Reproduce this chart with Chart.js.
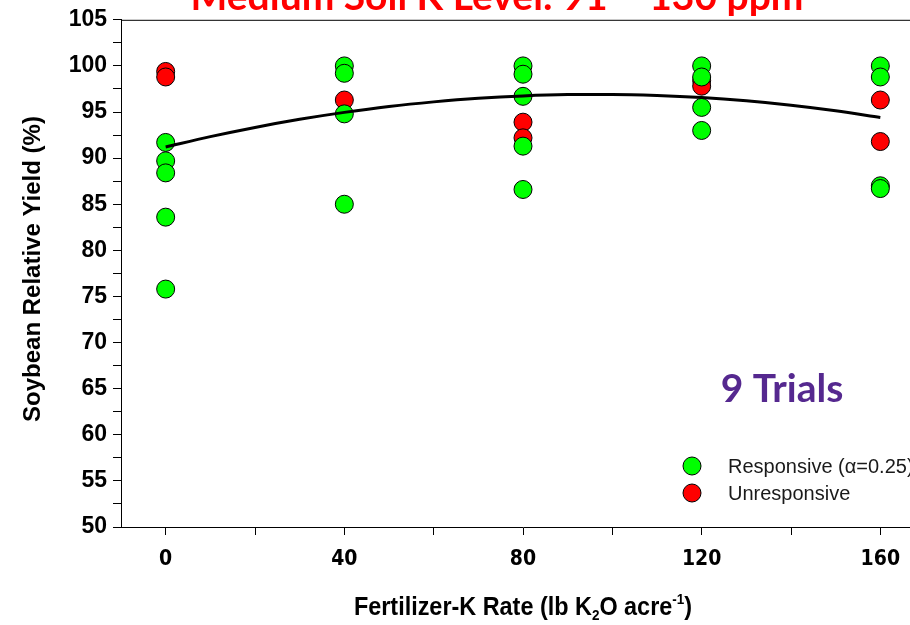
<!DOCTYPE html>
<html>
<head>
<meta charset="utf-8">
<script src="https://cdn.jsdelivr.net/npm/chart.js@4.4.1/dist/chart.umd.min.js"></script>
<style>
  html, body { margin: 0; padding: 0; background: #fff; overflow: hidden; }
  #wrap { width: 910px; height: 625px; overflow: hidden; }
</style>
</head>
<body>
<div id="wrap">
  <canvas id="yield-chart" width="936" height="625"></canvas>
</div>
<script>
// K rate (lb K2O/acre) vs relative yield (%) for each trial
const responsiveRates = [0, 0, 0, 0, 0, 40, 40, 40, 40, 80, 80, 80, 80, 80, 120, 120, 120, 120, 160, 160, 160, 160];
const responsiveYields = [91.7, 89.7, 88.4, 83.6, 75.8, 100.0, 99.2, 94.8, 85.0, 100.0, 99.1, 96.7, 91.3, 86.6, 100.0, 98.8, 95.5, 93.0, 100.0, 98.8, 87.0, 86.7];

const unresponsiveRates = [0, 0, 40, 80, 80, 120, 120, 160, 160];
const unresponsiveYields = [99.4, 98.8, 96.3, 93.9, 92.2, 98.4, 97.8, 96.3, 91.8];

// quadratic fit across all trials
const fitRates = [0, 10, 20, 30, 40, 50, 60, 70, 80, 90, 100, 110, 120, 130, 140, 150, 160];
const fitYields = [91.2, 92.33, 93.33, 94.21, 94.96, 95.6, 96.1, 96.49, 96.75, 96.89, 96.91, 96.8, 96.57, 96.21, 95.73, 95.13, 94.4];

const rateTicks = [0, 20, 40, 60, 80, 100, 120, 140, 160];
const yieldTicks = [50, 52.5, 55, 57.5, 60, 62.5, 65, 67.5, 70, 72.5, 75, 77.5, 80, 82.5, 85, 87.5, 90, 92.5, 95, 97.5, 100, 102.5, 105];

const titleText = 'Medium Soil K Level: 91 \u2013 130 ppm';
const trialsText = '9 Trials';

const toPoints = (xs, ys) => xs.map((x, i) => ({ x, y: ys[i] }));

const ctx = document.getElementById('yield-chart').getContext('2d');

// frame, headline text, legend and axis titles
const decorations = {
  id: 'decorations',
  afterDraw(chart) {
    const { ctx, chartArea: area } = chart;
    ctx.save();

    ctx.strokeStyle = '#000';
    ctx.lineWidth = 1;
    ctx.beginPath();
    ctx.moveTo(area.left, area.top + 0.5);
    ctx.lineTo(area.right, area.top + 0.5);
    ctx.lineTo(area.right, area.bottom);
    ctx.stroke();

    ctx.fillStyle = '#ff0000';
    ctx.font = 'bold 39px Lato';
    ctx.textAlign = 'center';
    ctx.textBaseline = 'alphabetic';
    ctx.fillText(titleText, 497, 10);

    ctx.fillStyle = '#55288f';
    ctx.font = 'bold 39px Lato';
    ctx.fillText(trialsText, 782, 402);

    // legend
    const items = [
      { label: 'Responsive (\u03b1=0.25)', color: '#00ff00', y: 466 },
      { label: 'Unresponsive', color: '#ff0000', y: 493 }
    ];
    ctx.textAlign = 'left';
    ctx.textBaseline = 'middle';
    ctx.font = '20px "Liberation Sans"';
    items.forEach(item => {
      ctx.beginPath();
      ctx.arc(692, item.y, 9, 0, Math.PI * 2);
      ctx.fillStyle = item.color;
      ctx.fill();
      ctx.strokeStyle = '#000';
      ctx.stroke();
      ctx.fillStyle = '#1a1a1a';
      ctx.fillText(item.label, 728, item.y + 1);
    });

    // y axis title
    ctx.save();
    ctx.translate(40, 269);
    ctx.rotate(-Math.PI / 2);
    ctx.textAlign = 'center';
    ctx.textBaseline = 'alphabetic';
    ctx.fillStyle = '#000';
    ctx.font = 'bold 24px "Liberation Sans"';
    ctx.fillText('Soybean Relative Yield (%)', 0, 0);
    ctx.restore();

    // x axis title with K2O subscript and acre^-1 superscript, narrowed
    const squeeze = 0.9;
    const big = 'bold 26px "Liberation Sans"';
    const small = 'bold 15px "Liberation Sans"';
    const parts = [
      { t: 'Fertilizer-K Rate (lb K', f: big, dy: 0 },
      { t: '2', f: small, dy: 5 },
      { t: 'O acre', f: big, dy: 0 },
      { t: '-1', f: small, dy: -11 },
      { t: ')', f: big, dy: 0 }
    ];
    let total = 0;
    parts.forEach(p => { ctx.font = p.f; p.w = ctx.measureText(p.t).width; total += p.w; });
    ctx.save();
    ctx.translate(523 - total * squeeze / 2, 615);
    ctx.scale(squeeze, 1);
    ctx.textAlign = 'left';
    ctx.textBaseline = 'alphabetic';
    ctx.fillStyle = '#000';
    let x = 0;
    parts.forEach(p => {
      ctx.font = p.f;
      ctx.fillText(p.t, x, p.dy);
      x += p.w;
    });
    ctx.restore();

    ctx.restore();
  }
};

new Chart(ctx, {
  type: 'scatter',
  data: {
    datasets: [
      {
        label: 'Fit',
        type: 'line',
        data: toPoints(fitRates, fitYields),
        borderColor: '#000',
        borderWidth: 3,
        pointRadius: 0,
        cubicInterpolationMode: 'monotone',
        fill: false
      },
      {
        label: 'Responsive (\u03b1=0.25)',
        data: toPoints(responsiveRates, responsiveYields),
        backgroundColor: '#00ff00',
        borderColor: '#000',
        borderWidth: 1,
        pointRadius: 9
      },
      {
        label: 'Unresponsive',
        data: toPoints(unresponsiveRates, unresponsiveYields),
        backgroundColor: '#ff0000',
        borderColor: '#000',
        borderWidth: 1,
        pointRadius: 9
      }
    ]
  },
  options: {
    responsive: false,
    animation: false,
    layout: { padding: { top: 17, right: 11, left: 0, bottom: 0 } },
    plugins: {
      legend: { display: false },
      tooltip: { enabled: false }
    },
    scales: {
      x: {
        type: 'linear',
        min: -10,
        max: 170,
        afterBuildTicks: scale => { scale.ticks = rateTicks.map(v => ({ value: v })); },
        afterFit: scale => { scale.height = 98; },
        grid: { drawOnChartArea: false, color: '#000', tickLength: 8 },
        border: { color: '#000', width: 1 },
        ticks: {
          color: '#000',
          padding: 12,
          maxRotation: 0,
          autoSkip: false,
          font: { family: '"DejaVu Sans Condensed", "Liberation Sans", sans-serif', weight: 'bold', size: 21 },
          callback: v => (v % 40 === 0 ? v : '')
        }
      },
      y: {
        min: 50,
        max: 105,
        afterBuildTicks: scale => { scale.ticks = yieldTicks.map(v => ({ value: v })); },
        afterFit: scale => { scale.width = 121; },
        grid: { drawOnChartArea: false, color: '#000', tickLength: 8 },
        border: { color: '#000', width: 1 },
        ticks: {
          color: '#000',
          padding: 6,
          autoSkip: false,
          font: { family: '"Liberation Sans", sans-serif', weight: 'bold', size: 23 },
          callback: v => (v % 5 === 0 ? v : '')
        }
      }
    }
  },
  plugins: [decorations]
});
</script>
</body>
</html>
